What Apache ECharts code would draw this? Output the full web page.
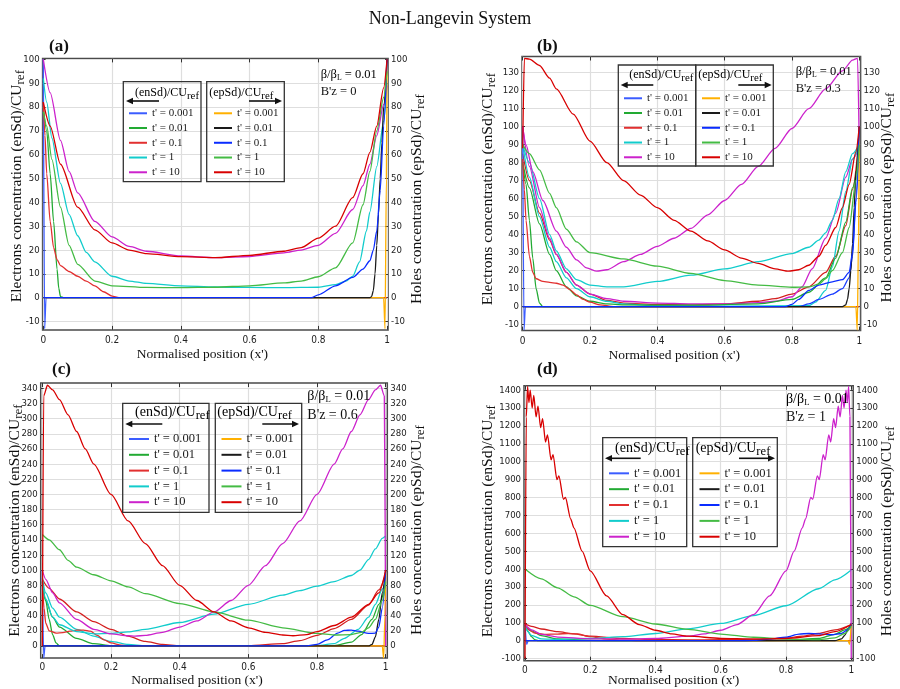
<!DOCTYPE html>
<html><head><meta charset="utf-8">
<script src="https://cdn.jsdelivr.net/npm/echarts@6/dist/echarts.min.js"></script>
<style>html,body{margin:0;padding:0;background:#fff}#c{width:900px;height:689px}</style>
</head><body><div id="c"></div>
<script>
// ---------------- DATA ----------------
const T_LABELS = ["t' = 0.001", "t' = 0.01", "t' = 0.1", "t' = 1", "t' = 10"];
const X_TICKS = [0, 0.2, 0.4, 0.6, 0.8, 1];
const A_YTICKS = [-10, 0, 10, 20, 30, 40, 50, 60, 70, 80, 90, 100];
const B_YTICKS = [-10, 0, 10, 20, 30, 40, 50, 60, 70, 80, 90, 100, 110, 120, 130];
const C_YTICKS = [0, 20, 40, 60, 80, 100, 120, 140, 160, 180, 200, 220, 240, 260, 280, 300, 320, 340];
const D_YTICKS = [-100, 0, 100, 200, 300, 400, 500, 600, 700, 800, 900, 1000, 1100, 1200, 1300, 1400];

// panel (a) B'z = 0
const A_EN_0001 = [[0,100],[0.004,-13],[0.008,0],[1,0]];
const A_EN_001 = [[0,80],[0.01,70],[0.02,52],[0.03,32],[0.04,12],[0.045,4],[0.05,0.5],[0.06,0],[1,0]];
const A_EN_01 = [[0,82],[0.005,68],[0.01,52],[0.02,32],[0.03,21],[0.04,16],[0.05,13.5],[0.075,11],[0.1,9],[0.125,7],[0.15,5],[0.175,2.5],[0.2,0.7],[0.22,0],[1,0]];
const A_EN_1 = [[0,92],[0.01,82],[0.025,67],[0.05,48],[0.075,35],[0.1,26],[0.125,19],[0.15,15],[0.2,9],[0.25,7],[0.3,6],[0.4,5],[0.5,4.5],[0.6,4.3],[0.7,4.2],[0.8,4.4],[0.85,5.5],[0.88,7],[0.9,9],[0.92,15],[0.94,28],[0.95,36],[0.97,55],[0.99,74],[1,90]];
const A_EN_10 = [[0,100],[0.02,86],[0.05,66],[0.075,53],[0.1,44],[0.15,32],[0.2,25.5],[0.25,21.5],[0.3,19.5],[0.4,17.5],[0.5,16.8],[0.6,17.3],[0.7,18.8],[0.75,20],[0.8,22],[0.85,27],[0.9,37],[0.93,47],[0.95,56],[0.97,68],[0.99,81],[1,89]];
const A_EP_0001 = [[0,0],[0.99,0],[0.994,-13],[0.998,50],[1,100]];
const A_EP_001 = [[0,0],[0.95,0],[0.955,0.5],[0.96,3],[0.965,10],[0.97,22],[0.975,35],[0.98,50],[0.985,65],[0.99,80],[1,100]];
const A_EP_01 = [[0,0],[0.78,0],[0.8,1.2],[0.85,5],[0.9,8.5],[0.93,12],[0.95,15.5],[0.96,20],[0.97,28],[0.98,45],[0.99,72],[1,100]];
const A_EP_1 = [[0,78],[0.01,72],[0.025,58],[0.05,38],[0.075,22],[0.1,14],[0.15,7],[0.2,5],[0.3,4.3],[0.4,4.2],[0.5,4.4],[0.6,5],[0.7,6.2],[0.75,7],[0.8,8.8],[0.85,12.5],[0.9,23],[0.93,39],[0.95,53],[0.97,70],[0.99,84],[1,95]];
const A_EP_10 = [[0,82],[0.02,72],[0.05,56],[0.1,38],[0.15,28.5],[0.2,23],[0.25,20],[0.3,18.5],[0.4,17.2],[0.5,16.8],[0.6,17.8],[0.7,19.5],[0.75,21],[0.8,25],[0.85,30],[0.9,42],[0.93,52],[0.95,61],[0.97,72],[0.99,88],[1,100]];

// panel (b) B'z = 0.3
const B_EN_0001 = [[0,100],[0.004,-13],[0.008,0],[1,0]];
const B_EN_001 = [[0,80],[0.01,68],[0.02,48],[0.03,27],[0.04,10],[0.05,2],[0.06,0],[1,0]];
const B_EN_01 = [[0,82],[0.005,65],[0.01,48],[0.02,28],[0.03,19],[0.04,15.5],[0.06,14],[0.08,13.5],[0.1,13],[0.12,12],[0.14,9.5],[0.16,6.5],[0.18,4],[0.2,2.5],[0.23,1],[0.27,0],[1,0]];
const B_EN_1 = [[0,90],[0.02,80],[0.05,60],[0.08,40],[0.1,31],[0.13,21],[0.16,15],[0.2,12],[0.25,11],[0.3,11],[0.4,14],[0.5,17.5],[0.6,21],[0.7,25],[0.8,29.5],[0.85,33],[0.88,37],[0.9,41],[0.92,48],[0.94,60],[0.96,75],[0.98,85],[1,90]];
const B_EN_10 = [[0,100],[0.01,90],[0.03,75],[0.06,59],[0.1,42],[0.13,33],[0.16,26],[0.19,21.5],[0.22,19.7],[0.25,20.5],[0.3,25],[0.35,29],[0.4,33.5],[0.45,38],[0.5,43.5],[0.55,51],[0.6,59],[0.65,68],[0.7,78],[0.75,88],[0.8,99],[0.85,110],[0.9,121],[0.95,131],[0.98,137],[0.995,138],[1,88]];
const B_EP_0001 = [[0,0],[0.99,0],[0.994,-13],[0.998,40],[1,100]];
const B_EP_001 = [[0,0],[0.95,0],[0.96,1],[0.965,4],[0.97,10],[0.975,20],[0.98,35],[0.985,55],[0.99,75],[1,100]];
const B_EP_01 = [[0,0],[0.78,0],[0.8,1.3],[0.82,4],[0.85,9],[0.88,12],[0.92,13.8],[0.95,15],[0.97,19],[0.98,30],[0.99,60],[1,100]];
const B_EP_1 = [[0,90],[0.02,85],[0.05,76],[0.08,63],[0.1,55],[0.13,43],[0.16,36],[0.2,30],[0.3,26.5],[0.4,22.5],[0.5,18.5],[0.6,14.5],[0.7,12],[0.8,10.8],[0.85,11],[0.88,12.5],[0.9,15.5],[0.92,20],[0.95,30],[0.97,44],[0.99,70],[1,90]];
const B_EP_10 = [[0,88],[0.005,138],[0.02,137.5],[0.05,134],[0.08,127],[0.1,121],[0.15,107],[0.2,92],[0.25,80],[0.3,70],[0.35,62],[0.4,55],[0.45,48],[0.5,42],[0.55,36.5],[0.6,31.5],[0.65,27],[0.7,24],[0.75,21],[0.79,19.7],[0.82,20.5],[0.85,23],[0.88,28],[0.9,34],[0.93,44],[0.95,55],[0.97,68],[0.99,86],[1,100]];
const B_X_RED = [[0,85],[0.02,70],[0.05,52],[0.08,37],[0.1,29],[0.13,19],[0.16,12],[0.2,7],[0.25,3.5],[0.3,2],[0.4,1.2],[0.5,1],[0.6,1.5],[0.7,3],[0.75,4.5],[0.8,7],[0.85,11],[0.9,19],[0.93,28],[0.96,45],[0.98,65],[1,95]];
const B_X_MAG = [[0,100],[0.02,78],[0.05,55],[0.08,38],[0.1,29],[0.13,19],[0.16,12],[0.2,7],[0.25,4.5],[0.3,3],[0.4,2],[0.5,1.5],[0.6,1.5],[0.7,2.2],[0.75,3],[0.8,5.5],[0.83,11],[0.86,21],[0.9,38],[0.93,52],[0.96,72],[0.98,82],[1,88]];
const B_X_CYAN = [[0,90],[0.02,72],[0.05,50],[0.08,33],[0.1,25],[0.13,16],[0.16,10],[0.2,5.5],[0.25,3],[0.3,1.5],[0.4,0.5],[0.6,0.3],[0.85,0.5],[0.87,2.5],[0.9,9],[0.92,22],[0.94,42],[0.96,64],[0.98,82],[1,90]];
const B_X_GREEN = [[0,80],[0.02,66],[0.05,46],[0.08,29],[0.1,20],[0.13,11],[0.16,6],[0.2,3],[0.25,1.5],[0.3,1],[0.5,0.8],[0.7,1.5],[0.8,4],[0.85,8],[0.9,16],[0.93,27],[0.96,47],[0.98,66],[1,85]];
const B_X_BLUE = [[0,0],[0.82,0],[0.85,1.5],[0.88,4],[0.92,7],[0.95,10],[0.97,16],[0.98,28],[0.99,58],[1,90]];

// panel (c) B'z = 0.6
const C_EN_0001 = [[0,100],[0.004,-16],[0.008,0],[1,0]];
const C_EN_001 = [[0,85],[0.01,60],[0.02,35],[0.03,15],[0.04,4],[0.05,0],[1,0]];
const C_EN_01 = [[0,85],[0.005,50],[0.01,30],[0.02,20],[0.04,17],[0.06,17.5],[0.08,19.5],[0.1,21],[0.12,21],[0.14,19.5],[0.16,14],[0.18,8],[0.2,4],[0.23,1],[0.26,0],[1,0]];
const C_EN_1 = [[0,85],[0.01,62],[0.03,38],[0.05,28],[0.1,19],[0.15,16],[0.2,16.5],[0.25,18.5],[0.3,22],[0.4,31],[0.5,42],[0.6,55],[0.7,67],[0.75,73],[0.8,79],[0.85,85],[0.9,93],[0.925,100],[0.95,114],[0.97,128],[0.99,142],[1,145]];
const C_EN_10 = [[0,100],[0.01,88],[0.03,70],[0.05,57],[0.1,35],[0.15,22],[0.2,16],[0.25,13.5],[0.27,13],[0.3,14],[0.35,18],[0.4,25],[0.45,33],[0.5,45],[0.55,60],[0.6,80],[0.65,106],[0.7,135],[0.75,165],[0.8,200],[0.85,240],[0.875,260],[0.9,283],[0.925,305],[0.95,325],[0.97,338],[0.985,344],[0.996,330],[1,0]];
const C_EP_0001 = [[0,0],[0.99,0],[0.994,-16],[0.998,40],[1,100]];
const C_EP_001 = [[0,0],[0.95,0],[0.96,2],[0.97,12],[0.98,35],[0.99,70],[1,100]];
const C_EP_01 = [[0,0],[0.77,0],[0.8,2],[0.83,8],[0.86,17],[0.88,20.5],[0.9,21],[0.92,19.5],[0.95,16.5],[0.97,17],[0.98,25],[0.99,50],[1,100]];
const C_EP_1 = [[0,147],[0.02,140],[0.05,127],[0.075,113],[0.1,104],[0.15,94],[0.2,86],[0.25,78],[0.3,69],[0.4,56],[0.5,45],[0.6,34],[0.7,24],[0.8,16.5],[0.85,14.5],[0.9,15],[0.93,18],[0.95,24],[0.97,35],[0.99,60],[1,85]];
const C_EP_10 = [[0,0],[0.004,330],[0.015,344],[0.03,338],[0.05,325],[0.075,305],[0.1,283],[0.125,260],[0.15,240],[0.2,200],[0.25,165],[0.3,135],[0.35,106],[0.4,80],[0.45,60],[0.5,45],[0.55,33],[0.6,24],[0.65,18],[0.7,14.5],[0.73,13.5],[0.77,15],[0.8,19],[0.85,27],[0.9,38],[0.95,55],[0.98,70],[1,100]];
const C_X_RED = [[0,88],[0.02,76],[0.05,62],[0.1,45],[0.15,32],[0.2,22],[0.25,13],[0.3,6],[0.35,2],[0.4,0.5],[0.6,0.5],[0.7,3],[0.75,7],[0.8,14],[0.85,23],[0.9,35],[0.95,54],[0.98,74],[1,95]];
const C_X_CYAN = [[0,90],[0.01,70],[0.03,50],[0.05,38],[0.1,22],[0.15,13],[0.2,6],[0.25,2],[0.3,0.5],[0.8,0.3],[0.85,3],[0.88,10],[0.92,22],[0.95,38],[0.97,55],[0.99,75],[1,85]];
const C_X_GREEN = [[0,80],[0.01,60],[0.03,38],[0.05,25],[0.1,10],[0.15,3],[0.2,0.5],[0.85,0.5],[0.9,5],[0.93,15],[0.96,35],[0.98,55],[1,80]];

// panel (d) B'z = 1
const D_EN_0001 = [[0,90],[0.005,-20],[0.01,0],[1,0]];
const D_EN_001 = [[0,85],[0.01,50],[0.02,22],[0.03,6],[0.04,0],[1,0]];
const D_EN_01 = [[0,90],[0.01,62],[0.03,42],[0.06,35],[0.1,37],[0.13,40],[0.16,38],[0.2,22],[0.25,9],[0.3,3],[0.35,0],[1,0]];
const D_EN_1 = [[0,80],[0.02,30],[0.05,10],[0.1,7],[0.2,12],[0.3,22],[0.4,40],[0.5,66],[0.6,96],[0.7,140],[0.8,195],[0.9,290],[0.95,340],[1,395]];
const D_EN_10 = [[0,90],[0.02,60],[0.05,35],[0.1,20],[0.2,10],[0.3,9],[0.4,12],[0.5,25],[0.55,38],[0.6,58],[0.65,90],[0.7,145],[0.75,250],[0.8,390],[0.825,500],[0.85,630],[0.86,680],[0.876,800],[0.882,790],[0.896,920],[0.902,900],[0.914,1040],[0.92,1010],[0.931,1150],[0.937,1110],[0.946,1240],[0.952,1190],[0.96,1310],[0.966,1250],[0.973,1370],[0.978,1300],[0.984,1400],[0.988,1330],[0.992,1420],[0.996,1250],[1,-100]];
const D_EP_0001 = [[0,0],[0.99,0],[0.995,-20],[1,90]];
const D_EP_001 = [[0,0],[0.95,0],[0.97,10],[0.98,30],[0.99,60],[1,90]];
const D_EP_01 = [[0,0],[0.65,0],[0.7,2],[0.75,8],[0.8,20],[0.84,37],[0.87,40],[0.9,38],[0.94,33],[0.97,40],[0.99,62],[1,90]];
const D_EP_1 = [[0,400],[0.05,345],[0.1,295],[0.15,245],[0.2,197],[0.3,134],[0.4,93],[0.5,63],[0.6,37],[0.7,19],[0.8,9],[0.9,6],[0.95,15],[0.98,40],[1,80]];
const D_EP_10 = [[0,-100],[0.004,1250],[0.008,1420],[0.012,1330],[0.016,1400],[0.022,1300],[0.027,1370],[0.034,1250],[0.04,1310],[0.048,1190],[0.054,1240],[0.063,1110],[0.069,1150],[0.08,1010],[0.086,1040],[0.098,900],[0.104,920],[0.118,790],[0.124,800],[0.14,680],[0.15,630],[0.175,500],[0.2,390],[0.25,250],[0.3,145],[0.35,90],[0.4,58],[0.45,38],[0.5,25],[0.6,13],[0.7,9],[0.8,12],[0.9,28],[0.95,50],[1,90]];
const D_X_RED = [[0,95],[0.02,80],[0.05,65],[0.1,50],[0.15,38],[0.2,25],[0.3,12],[0.4,6],[0.5,4],[0.6,5],[0.7,8],[0.8,15],[0.85,25],[0.9,40],[0.95,60],[1,90]];
const D_X_GREEN = [[0,85],[0.02,55],[0.05,28],[0.1,10],[0.2,2],[0.3,0],[0.7,0],[0.8,2],[0.9,12],[0.95,35],[0.98,60],[1,85]];

// ---------------- STYLE / LAYOUT ----------------
const SERIF = '"Liberation Serif","Times New Roman",Times,serif';
const NARROW = '"Liberation Sans Narrow","DejaVu Sans Condensed","Arial Narrow","Liberation Sans",sans-serif';
const EN_COLORS = ['#3b5cff', '#22aa33', '#e23030', '#12cccc', '#cc22cc'];
const EP_COLORS = ['#ffb000', '#1a1a1a', '#0a2cff', '#44bb44', '#d80000'];
const X_COLORS = { red: '#d42020', mag: '#cc22cc', cyan: '#12cccc', green: '#22aa33', blue: '#1a3cff' };

const PANELS = [
  { key: 'a', en: [A_EN_0001, A_EN_001, A_EN_01, A_EN_1, A_EN_10], ep: [A_EP_0001, A_EP_001, A_EP_01, A_EP_1, A_EP_10], extras: [],
    yticks: A_YTICKS, bz: "B'z = 0",
    grid: { left: 42.6, top: 58.4, width: 345.5, height: 271.5 }, xr: [-0.002, 1.003], yr: [-13.5, 100.4],
    lGap: 15.6, rGap: 22.9, lPad: 16, rPad: 10, xGap: 18, xPad: 26, xMargin: 6,
    legEn: [129, 105.9], legEp: [214, 105.9], legW: 18, legFs: 11, legLh: 14.75,
    box1: [123.3, 81.7, 77.7, 100], box2: [206.7, 81.7, 77.6, 100],
    hdrEn: [135, 93], hdrEp: [209.3, 93], hdrFs: 12,
    arrEn: [126, 159, 101], arrEp: [249, 282, 101],
    note: [320.7, 74.3, 91.7], noteFs: 12.5, label: [49, 47] },
  { key: 'b', en: [B_EN_0001, B_EN_001, B_EN_01, B_EN_1, B_EN_10], ep: [B_EP_0001, B_EP_001, B_EP_01, B_EP_1, B_EP_10],
    extras: [['red', B_X_RED], ['mag', B_X_MAG], ['cyan', B_X_CYAN], ['green', B_X_GREEN], ['blue', B_X_BLUE]],
    yticks: B_YTICKS, bz: "B'z = 0.3",
    grid: { left: 522, top: 56.5, width: 347.1, height: 274.1 }, xr: [-0.002, 1.004], yr: [-13.3, 139],
    lGap: 23.5, rGap: 19.9, lPad: 9, rPad: 8, xGap: 18, xPad: 34, xMargin: 6,
    legEn: [624, 90.9], legEp: [702, 90.9], legW: 18, legFs: 11, legLh: 14.75,
    box1: [618.3, 65, 77.4, 101], box2: [695.7, 65, 77.6, 101],
    hdrEn: [629.3, 75], hdrEp: [698.3, 75], hdrFs: 12,
    arrEn: [620.7, 653.3, 85], arrEp: [738.3, 771.7, 85],
    note: [795.7, 71.7, 88.3], noteFs: 12.5, label: [537, 47] },
  { key: 'c', en: [C_EN_0001, C_EN_001, C_EN_01, C_EN_1, C_EN_10], ep: [C_EP_0001, C_EP_001, C_EP_01, C_EP_1, C_EP_10],
    extras: [['red', C_X_RED], ['cyan', C_X_CYAN], ['green', C_X_GREEN]],
    yticks: C_YTICKS, bz: "B'z = 0.6",
    grid: { left: 40.7, top: 383, width: 346.6, height: 275.1 }, xr: [-0.0047, 1.0047], yr: [-16, 347],
    lGap: 15.2, rGap: 23.7, lPad: 0, rPad: 19, xGap: 15, xPad: 34, xMargin: 4.5,
    legEn: [129, 431.1], legEp: [221.5, 431.1], legW: 20, legFs: 12.5, legLh: 15.8,
    box1: [122.7, 403.3, 86.3, 109], box2: [215.3, 403.3, 86.4, 109],
    hdrEn: [135, 412.7], hdrEp: [217.3, 412.7], hdrFs: 14,
    arrEn: [125.3, 162.3, 424], arrEp: [262.3, 299, 424],
    note: [307.3, 396, 415], noteFs: 14, label: [52, 370] },
  { key: 'd', en: [D_EN_0001, D_EN_001, D_EN_01, D_EN_1, D_EN_10], ep: [D_EP_0001, D_EP_001, D_EP_01, D_EP_1, D_EP_10],
    extras: [['red', D_X_RED], ['green', D_X_GREEN]],
    yticks: D_YTICKS, bz: "B'z = 1",
    grid: { left: 524, top: 385.8, width: 337.7, height: 274.9 }, xr: [-0.003, 1.006], yr: [-112, 1424],
    lGap: 25.5, rGap: 27.3, lPad: 4, rPad: 16, xGap: 13, xPad: 30, xMargin: 4.5,
    legEn: [609, 465.4], legEp: [699.5, 465.4], legW: 20, legFs: 12.5, legLh: 15.85,
    box1: [602.7, 437.7, 84, 109], box2: [692.7, 437.7, 84.6, 109],
    hdrEn: [615, 448.3], hdrEp: [695.7, 448.3], hdrFs: 14,
    arrEn: [605, 640.7, 458.3], arrEp: [739, 775, 458.3],
    note: [786, 399.3, 417.3], noteFs: 14, label: [537, 370] }
];

function subRich(fs, sfs, off) {
  const mainH = fs + 5;
  const padTop = Math.max(0, (fs + 1) / 2 + off - sfs / 2);
  const padBottom = Math.max(0, mainH - padTop - sfs);
  return {
    n: { fontFamily: SERIF, fontSize: fs, lineHeight: fs + 1, padding: [0, 0, 4, 0], color: '#111' },
    s: { fontFamily: SERIF, fontSize: sfs, lineHeight: sfs, padding: [padTop, 0, padBottom, 0], color: '#111' }
  };
}

const grids = [], xAxes = [], yAxes = [], series = [], legends = [], graphics = [];

PANELS.forEach((P, i) => {
  grids.push(Object.assign({ show: true, borderColor: '#4a4a4a', borderWidth: 1.5, containLabel: false }, P.grid));
  const tickStyle = { color: '#333', width: 1 };
  const yLabelStyle = { fontFamily: NARROW, fontSize: 9.5, color: '#222' };
  const xLabelStyle = { fontFamily: NARROW, fontSize: 10, color: '#222' };
  xAxes.push({
    gridIndex: i, type: 'value', min: P.xr[0], max: P.xr[1], position: 'bottom',
    axisLine: { show: false, onZero: false },
    axisTick: { show: true, inside: true, length: 4, customValues: X_TICKS, lineStyle: tickStyle },
    axisLabel: Object.assign({ customValues: X_TICKS, margin: P.xMargin, formatter: v => String(+v.toFixed(2)) }, xLabelStyle),
    splitLine: { show: true, lineStyle: { color: '#dedede', width: 1.2 } },
    name: "Normalised position (x')", nameLocation: 'middle', nameGap: P.xGap, nameMoveOverlap: false,
    nameTextStyle: { fontFamily: SERIF, fontSize: 13.5, color: '#111', padding: [0, P.xPad, 0, 0] }
  });
  xAxes.push({
    gridIndex: i, type: 'value', min: P.xr[0], max: P.xr[1], position: 'top',
    axisLine: { show: false, onZero: false },
    axisTick: { show: true, inside: true, length: 4, customValues: X_TICKS, lineStyle: tickStyle },
    axisLabel: { show: false }, splitLine: { show: false }
  });
  const nameRich = subRich(15.5, 13, 3.5);
  yAxes.push({
    gridIndex: i, type: 'value', min: P.yr[0], max: P.yr[1], position: 'left',
    axisLine: { show: false, onZero: false },
    axisTick: { show: true, inside: true, length: 3, customValues: P.yticks, lineStyle: tickStyle },
    axisLabel: Object.assign({ customValues: P.yticks, margin: 3, formatter: v => String(v) }, yLabelStyle),
    splitLine: { show: true, lineStyle: { color: '#dedede', width: 1.2 } },
    name: '{n|Electrons concentration (enSd)/CU}{s|ref}', nameLocation: 'middle', nameRotate: 90, nameGap: P.lGap, nameMoveOverlap: false,
    nameTextStyle: { rich: nameRich, padding: [0, 0, 0, P.lPad] }
  });
  yAxes.push({
    gridIndex: i, type: 'value', min: P.yr[0], max: P.yr[1], position: 'right',
    axisLine: { show: false, onZero: false },
    axisTick: { show: true, inside: true, length: 3, customValues: P.yticks, lineStyle: tickStyle },
    axisLabel: Object.assign({ customValues: P.yticks, margin: 3, formatter: v => String(v) }, yLabelStyle),
    splitLine: { show: false },
    name: '{n|Holes concentration (epSd)/CU}{s|ref}', nameLocation: 'middle', nameRotate: 90, nameGap: P.rGap, nameMoveOverlap: false,
    nameTextStyle: { rich: nameRich, padding: [0, P.rPad, 0, 0] }
  });

  const mk = (name, data, color, yi) => ({
    name, type: 'line', data, xAxisIndex: 2 * i, yAxisIndex: yi,
    showSymbol: false, symbol: 'none', smooth: 0.25, smoothMonotone: 'x',
    lineStyle: { color, width: 1.3 }, itemStyle: { color }, silent: true, animation: false
  });
  P.extras.forEach((e, k) => series.push(mk(P.key + '|x' + k + '|' + e[0], e[1], X_COLORS[e[0]], 2 * i)));
  const enNames = [], epNames = [];
  P.en.forEach((d, k) => { const n = P.key + '|en|' + T_LABELS[k]; enNames.push(n); series.push(mk(n, d, EN_COLORS[k], 2 * i)); });
  P.ep.forEach((d, k) => { const n = P.key + '|ep|' + T_LABELS[k]; epNames.push(n); series.push(mk(n, d, EP_COLORS[k], 2 * i + 1)); });

  const legBase = {
    show: true, orient: 'vertical', padding: 0, itemGap: 0, itemWidth: P.legW, itemHeight: 2, icon: 'rect',
    selectedMode: false, formatter: n => n.split('|')[2],
    textStyle: { fontFamily: SERIF, fontSize: P.legFs, lineHeight: P.legLh, color: '#1a1a1a' }
  };
  legends.push(Object.assign({}, legBase, { left: P.legEn[0], top: P.legEn[1], data: enNames }));
  legends.push(Object.assign({}, legBase, { left: P.legEp[0], top: P.legEp[1], data: epNames }));

  [P.box1, P.box2].forEach(b => graphics.push({ type: 'rect', z: 100, shape: { x: b[0], y: b[1], width: b[2], height: b[3] }, style: { fill: 'none', stroke: '#333', lineWidth: 1.3 } }));
  const hdrRich = subRich(P.hdrFs, P.hdrFs * 0.9, 3);
  graphics.push({ type: 'text', z: 100, x: P.hdrEn[0], y: P.hdrEn[1] + 2, style: { text: '{n|(enSd)/CU}{s|ref}', rich: hdrRich, align: 'left', verticalAlign: 'middle' } });
  graphics.push({ type: 'text', z: 100, x: P.hdrEp[0], y: P.hdrEp[1] + 2, style: { text: '{n|(epSd)/CU}{s|ref}', rich: hdrRich, align: 'left', verticalAlign: 'middle' } });
  const a1 = P.arrEn, a2 = P.arrEp;
  graphics.push({ type: 'line', z: 100, shape: { x1: a1[0] + 4, y1: a1[2], x2: a1[1], y2: a1[2] }, style: { stroke: '#111', lineWidth: 1.6 } });
  graphics.push({ type: 'polygon', z: 100, shape: { points: [[a1[0], a1[2]], [a1[0] + 7, a1[2] - 3.2], [a1[0] + 7, a1[2] + 3.2]] }, style: { fill: '#111' } });
  graphics.push({ type: 'line', z: 100, shape: { x1: a2[0], y1: a2[2], x2: a2[1] - 4, y2: a2[2] }, style: { stroke: '#111', lineWidth: 1.6 } });
  graphics.push({ type: 'polygon', z: 100, shape: { points: [[a2[1], a2[2]], [a2[1] - 7, a2[2] - 3.2], [a2[1] - 7, a2[2] + 3.2]] }, style: { fill: '#111' } });
  const noteRich = subRich(P.noteFs, P.noteFs * 0.62, 3.5);
  graphics.push({ type: 'text', z: 100, x: P.note[0], y: P.note[1] + 2, style: { text: '{n|β/β}{s|L}{n| = 0.01}', rich: noteRich, align: 'left', verticalAlign: 'middle' } });
  graphics.push({ type: 'text', z: 100, x: P.note[0], y: P.note[2], style: { text: P.bz, font: P.noteFs + 'px ' + SERIF, fill: '#111', align: 'left', verticalAlign: 'middle' } });
  graphics.push({ type: 'text', z: 100, x: P.label[0], y: P.label[1], style: { text: '(' + P.key + ')', font: 'bold 17px ' + SERIF, fill: '#111', align: 'left', verticalAlign: 'middle' } });
});

const chart = echarts.init(document.getElementById('c'), null, { renderer: 'canvas' });
chart.setOption({
  backgroundColor: '#ffffff',
  animation: false,
  title: { text: 'Non-Langevin System', left: 'center', top: 10, padding: 0, textStyle: { fontFamily: SERIF, fontSize: 18, fontWeight: 'normal', color: '#111' } },
  grid: grids, xAxis: xAxes, yAxis: yAxes, legend: legends, series, graphic: graphics
});
</script></body></html>
